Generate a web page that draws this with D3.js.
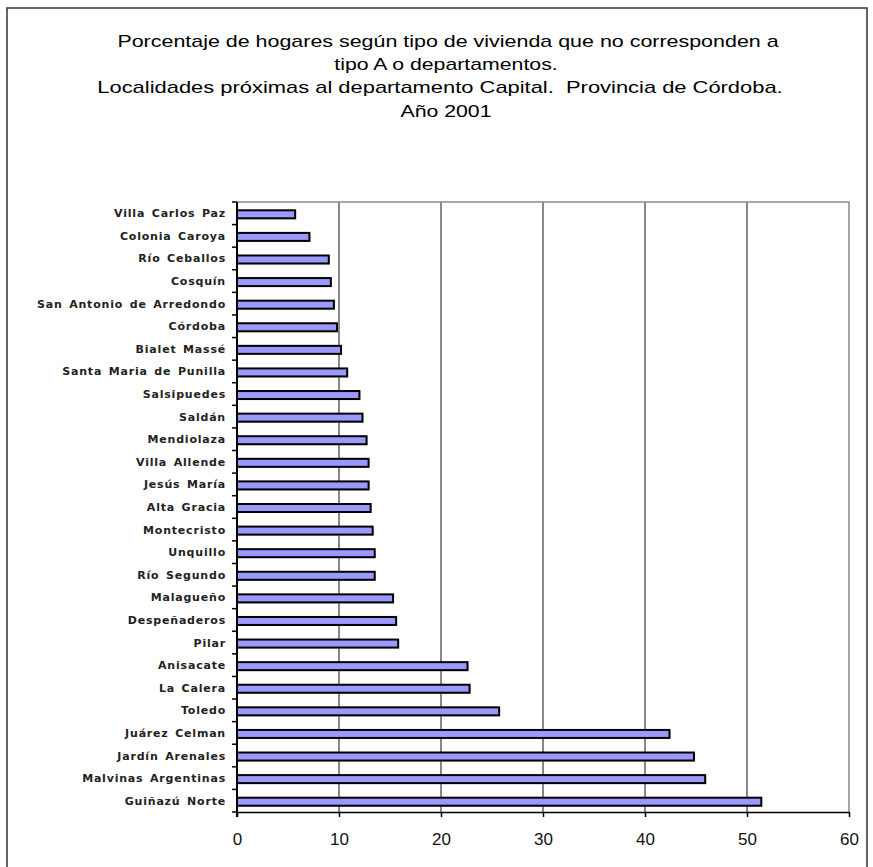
<!DOCTYPE html>
<html>
<head>
<meta charset="utf-8">
<script src="https://cdn.jsdelivr.net/npm/d3@7"></script>
<style>
html,body{margin:0;padding:0;background:#fff;}
svg{display:block;}
</style>
</head>
<body>
<svg id="chart" width="873" height="867"></svg>
<script>
const titleLines = [
  "Porcentaje de hogares según tipo de vivienda que no corresponden a",
  "tipo A o departamentos.",
  "Localidades próximas al departamento Capital.  Provincia de Córdoba.",
  "Año 2001"
];
const categories = [
  "Villa Carlos Paz","Colonia Caroya","Río Ceballos","Cosquín","San Antonio de Arredondo",
  "Córdoba","Bialet Massé","Santa Maria de Punilla","Salsipuedes","Saldán","Mendiolaza",
  "Villa Allende","Jesús María","Alta Gracia","Montecristo","Unquillo","Río Segundo",
  "Malagueño","Despeñaderos","Pilar","Anisacate","La Calera","Toledo","Juárez Celman",
  "Jardín Arenales","Malvinas Argentinas","Guiñazú Norte"
];
const values = [
  5.7, 7.1, 9.0, 9.2, 9.5,
  9.8, 10.2, 10.8, 12.0, 12.3, 12.7,
  12.9, 12.9, 13.1, 13.3, 13.5, 13.5,
  15.3, 15.6, 15.8, 22.6, 22.8, 25.7, 42.4,
  44.8, 45.9, 51.4
];
const xTicks = [0, 10, 20, 30, 40, 50, 60];

const svg = d3.select("#chart");
const plot = {left: 237, right: 849, top: 202, bottom: 812};

// outer frame
svg.append("rect").attr("x", 7).attr("y", 8).attr("width", 860).attr("height", 880)
  .attr("fill", "none").attr("stroke", "#333").attr("stroke-width", 1.5);

// title (horizontally stretched like the original)
const titleY = [47, 70, 93, 117];
const titleX = [448, 446, 440, 446];
const titleS = [1.34, 1.33, 1.37, 1.33];
svg.append("g").selectAll("text").data(titleLines).join("text")
  .attr("transform", (d, i) => `translate(${titleX[i]},${titleY[i]}) scale(${titleS[i]},1)`)
  .attr("text-anchor", "middle")
  .attr("font-family", "Liberation Sans, Arial, sans-serif")
  .attr("font-size", 16)
  .attr("fill", "#000")
  .style("white-space", "pre")
  .text(d => d);

const x = d3.scaleLinear().domain([0, 60]).range([plot.left, plot.right]);
const y = d3.scaleBand().domain(categories).range([plot.top, plot.bottom]);

// gridlines
svg.append("g").selectAll("line").data(xTicks.filter(t => t > 0 && t < 60)).join("line")
  .attr("x1", d => x(d)).attr("x2", d => x(d))
  .attr("y1", plot.top).attr("y2", plot.bottom)
  .attr("stroke", "#111").attr("stroke-width", 1);

// plot border top & right (gray)
svg.append("line").attr("x1", plot.left).attr("x2", plot.right + 0.5)
  .attr("y1", plot.top).attr("y2", plot.top).attr("stroke", "#888").attr("stroke-width", 1.5);
svg.append("line").attr("x1", plot.right).attr("x2", plot.right)
  .attr("y1", plot.top).attr("y2", plot.bottom).attr("stroke", "#888").attr("stroke-width", 1.5);

// bars
const barH = 8;
const bars = svg.append("g");
bars.selectAll("rect.shadow").data(values).join("rect").attr("class", "shadow")
  .attr("x", x(0) + 1)
  .attr("y", (d, i) => y(categories[i]) + y.bandwidth() / 2 - barH / 2 + 2)
  .attr("width", d => x(d) - x(0))
  .attr("height", barH)
  .attr("fill", "#bbb");
bars.selectAll("rect.bar").data(values).join("rect").attr("class", "bar")
  .attr("x", x(0))
  .attr("y", (d, i) => y(categories[i]) + y.bandwidth() / 2 - barH / 2 + 1)
  .attr("width", d => x(d) - x(0))
  .attr("height", barH)
  .attr("fill", "#9999ff")
  .attr("stroke", "#000")
  .attr("stroke-width", 2);

// y axis
const yAxis = svg.append("g");
yAxis.append("line").attr("x1", plot.left).attr("x2", plot.left)
  .attr("y1", plot.top).attr("y2", plot.bottom + 5).attr("stroke", "#000").attr("stroke-width", 2);
const boundaries = categories.map(c => y(c)).concat([plot.bottom]);
yAxis.selectAll("line.tick").data(boundaries).join("line").attr("class", "tick")
  .attr("x1", plot.left - 5).attr("x2", plot.left)
  .attr("y1", d => d).attr("y2", d => d)
  .attr("stroke", "#000").attr("stroke-width", 1.5);
yAxis.selectAll("text").data(categories).join("text")
  .attr("x", 226)
  .attr("y", d => y(d) + y.bandwidth() / 2 + 4)
  .attr("text-anchor", "end")
  .attr("font-family", "DejaVu Sans, sans-serif")
  .attr("font-weight", "bold")
  .attr("font-size", 11)
  .attr("letter-spacing", 0.8)
  .attr("word-spacing", 2)
  .attr("fill", "#222")
  .text(d => d);

// x axis
const xAxis = svg.append("g").attr("transform", `translate(0,${plot.bottom})`)
  .call(d3.axisBottom(x).tickValues(xTicks).tickSize(5).tickSizeOuter(0).tickPadding(16));
xAxis.select(".domain").attr("stroke", "#000").attr("stroke-width", 1.5);
xAxis.selectAll(".tick line").attr("stroke", "#000").attr("stroke-width", 1.5);
xAxis.selectAll(".tick text")
  .attr("font-family", "Liberation Sans, Arial, sans-serif")
  .attr("font-size", 17)
  .attr("fill", "#111");
</script>
</body>
</html>
